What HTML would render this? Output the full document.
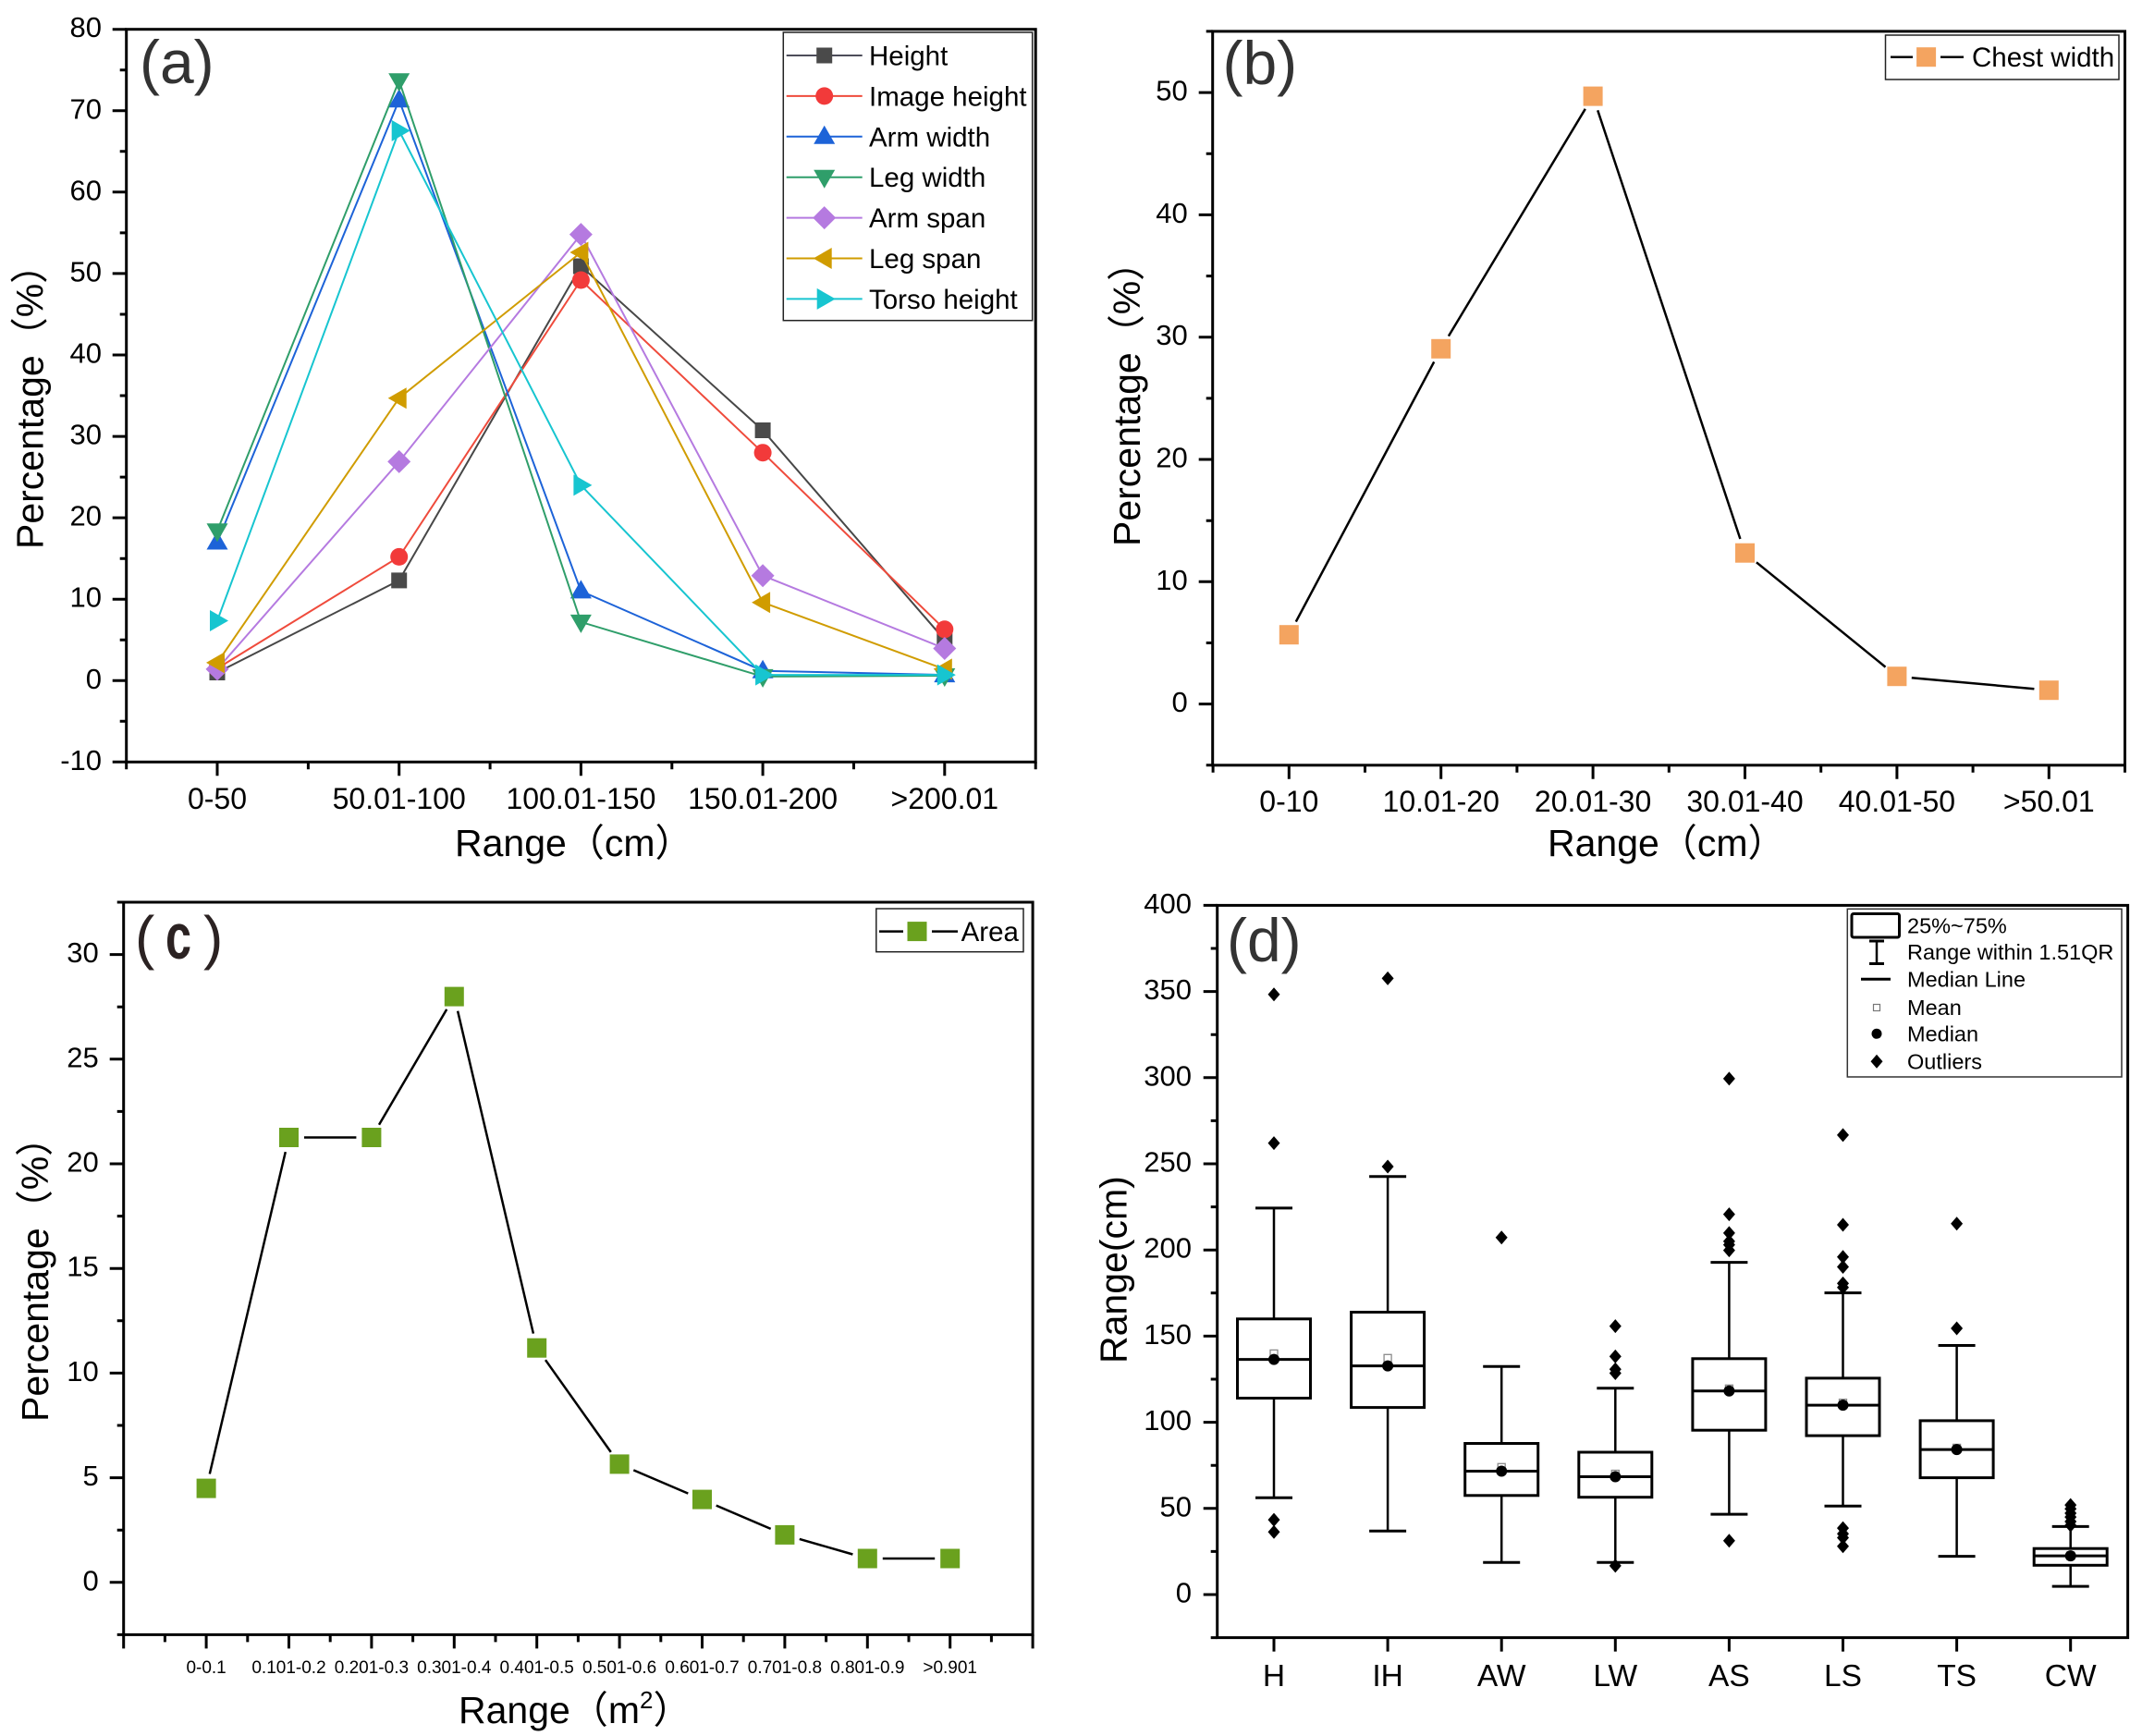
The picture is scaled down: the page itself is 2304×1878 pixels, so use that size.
<!DOCTYPE html>
<html><head><meta charset="utf-8"><style>
html,body{margin:0;padding:0;background:#fff;}
svg{display:block;}
text{font-family:"Liberation Sans","Noto Sans CJK SC",sans-serif;fill:#000;}
.yt{font-size:31px;text-anchor:end;}
.xt{font-size:32px;text-anchor:middle;}
.xs{font-size:19px;text-anchor:middle;}
.ttl{font-size:41px;}
.lg{font-size:29.5px;}
.lgd{font-size:23.5px;}
.pl{font-size:66px;fill:#333;}
</style></head><body>
<svg width="2304" height="1878" viewBox="0 0 2304 1878" xmlns="http://www.w3.org/2000/svg">
<defs>
<rect id="sq" x="-8.5" y="-8.5" width="17" height="17"/>
<circle id="ci" r="9.5"/>
<path id="tu" d="M0 -12L11.5 8L-11.5 8Z"/>
<path id="td" d="M0 12L11.5 -8L-11.5 -8Z"/>
<path id="dm" d="M0 -12.5L12.5 0L0 12.5L-12.5 0Z"/>
<path id="tl" d="M-12 0L8 -11.5L8 11.5Z"/>
<path id="tr" d="M12 0L-8 -11.5L-8 11.5Z"/>
<rect id="bsq" x="-10.5" y="-10.5" width="21" height="21"/>
<path id="dia" d="M0 -7.5L6.5 0L0 7.5L-6.5 0Z"/>
</defs>
<rect width="2304" height="1878" fill="#fff"/>

<!-- ================= PANEL A ================= -->
<g stroke="#000" stroke-width="3" fill="none">
<path d="M121.7 31.7h15M121.7 119.8h15M121.7 207.8h15M121.7 295.9h15M121.7 384h15M121.7 472.1h15M121.7 560.1h15M121.7 648.2h15M121.7 736.3h15M121.7 824.3h15"/>
<path d="M129.7 75.7h7M129.7 163.8h7M129.7 251.9h7M129.7 340h7M129.7 428h7M129.7 516.1h7M129.7 604.2h7M129.7 692.2h7M129.7 780.3h7"/>
<path d="M235 824.3v15M431.7 824.3v15M628.4 824.3v15M825.1 824.3v15M1021.8 824.3v15"/>
<path d="M136.7 824.3v8M333.4 824.3v8M530.1 824.3v8M726.8 824.3v8M923.5 824.3v8M1120.2 824.3v8"/>
</g>
<text class="yt" x="110" y="40.2">80</text>
<text class="yt" x="110" y="128.3">70</text>
<text class="yt" x="110" y="216.3">60</text>
<text class="yt" x="110" y="304.4">50</text>
<text class="yt" x="110" y="392.5">40</text>
<text class="yt" x="110" y="480.6">30</text>
<text class="yt" x="110" y="568.6">20</text>
<text class="yt" x="110" y="656.7">10</text>
<text class="yt" x="110" y="744.8">0</text>
<text class="yt" x="110" y="832.8">-10</text>
<text class="xt" x="235" y="875">0-50</text>
<text class="xt" x="431.7" y="875">50.01-100</text>
<text class="xt" x="628.4" y="875">100.01-150</text>
<text class="xt" x="825.1" y="875">150.01-200</text>
<text class="xt" x="1021.8" y="875">&gt;200.01</text>
<text class="ttl" x="492" y="926">Range（cm）</text>
<text class="ttl" transform="translate(46.5,594) rotate(-90)">Percentage（%）</text>
<text class="pl" x="151" y="90">(a)</text>

<!-- series a -->
<polyline fill="none" stroke-width="2" stroke="#474747" points="235,727.5 431.7,627.9 628.4,288 825.1,465.5 1021.8,692.2"/>
<g fill="#4a4a4a"><use href="#sq" x="235" y="727.5"/><use href="#sq" x="431.7" y="627.9"/><use href="#sq" x="628.4" y="288"/><use href="#sq" x="825.1" y="465.5"/><use href="#sq" x="1021.8" y="692.2"/></g>
<polyline fill="none" stroke-width="2" stroke="#ef4b3c" points="235,723.1 431.7,602.4 628.4,303 825.1,489.7 1021.8,680.8"/>
<g fill="#f23a3a"><use href="#ci" x="235" y="723.1"/><use href="#ci" x="431.7" y="602.4"/><use href="#ci" x="628.4" y="303"/><use href="#ci" x="825.1" y="489.7"/><use href="#ci" x="1021.8" y="680.8"/></g>
<polyline fill="none" stroke-width="2" stroke="#1d63d8" points="235,586.5 431.7,108.3 628.4,639.4 825.1,725.7 1021.8,730.1"/>
<g fill="#1d63d8"><use href="#tu" x="235" y="586.5"/><use href="#tu" x="431.7" y="108.3"/><use href="#tu" x="628.4" y="639.4"/><use href="#tu" x="825.1" y="725.7"/><use href="#tu" x="1021.8" y="730.1"/></g>
<polyline fill="none" stroke-width="2" stroke="#2f9e6a" points="235,574.2 431.7,87.2 628.4,672.9 825.1,731.9 1021.8,731"/>
<g fill="#2f9e6a"><use href="#td" x="235" y="574.2"/><use href="#td" x="431.7" y="87.2"/><use href="#td" x="628.4" y="672.9"/><use href="#td" x="825.1" y="731.9"/><use href="#td" x="1021.8" y="731"/></g>
<polyline fill="none" stroke-width="2" stroke="#b57ae0" points="235,723.9 431.7,499.4 628.4,253.6 825.1,622.7 1021.8,701.5"/>
<g fill="#b57ae0"><use href="#dm" x="235" y="723.9"/><use href="#dm" x="431.7" y="499.4"/><use href="#dm" x="628.4" y="253.6"/><use href="#dm" x="825.1" y="622.7"/><use href="#dm" x="1021.8" y="701.5"/></g>
<polyline fill="none" stroke-width="2" stroke="#d09c00" points="235,716.9 431.7,430.7 628.4,273 825.1,651.7 1021.8,723.9"/>
<g fill="#d09c00"><use href="#tl" x="235" y="716.9"/><use href="#tl" x="431.7" y="430.7"/><use href="#tl" x="628.4" y="273"/><use href="#tl" x="825.1" y="651.7"/><use href="#tl" x="1021.8" y="723.9"/></g>
<polyline fill="none" stroke-width="2" stroke="#17c5d0" points="235,671.5 431.7,141.4 628.4,524.9 825.1,730.1 1021.8,730.1"/>
<g fill="#17c5d0"><use href="#tr" x="235" y="671.5"/><use href="#tr" x="431.7" y="141.4"/><use href="#tr" x="628.4" y="524.9"/><use href="#tr" x="825.1" y="730.1"/><use href="#tr" x="1021.8" y="730.1"/></g>

<!-- legend a -->
<rect x="847.3" y="35" width="269.4" height="311.7" fill="#fff" stroke="#222" stroke-width="1.5"/>
<g stroke-width="2">
<path d="M850.7 60H932.7" stroke="#4d4d5a"/>
<path d="M850.7 103.9H932.7" stroke="#ef4b3c"/>
<path d="M850.7 147.8H932.7" stroke="#1d63d8"/>
<path d="M850.7 191.7H932.7" stroke="#2f9e6a"/>
<path d="M850.7 235.6H932.7" stroke="#b57ae0"/>
<path d="M850.7 279.5H932.7" stroke="#d09c00"/>
<path d="M850.7 323.4H932.7" stroke="#17c5d0"/>
</g>
<use href="#sq" x="891.7" y="60" fill="#4a4a4a"/>
<use href="#ci" x="891.7" y="103.9" fill="#f23a3a"/>
<use href="#tu" x="891.7" y="147.8" fill="#1d63d8"/>
<use href="#td" x="891.7" y="191.7" fill="#2f9e6a"/>
<use href="#dm" x="891.7" y="235.6" fill="#b57ae0"/>
<use href="#tl" x="891.7" y="279.5" fill="#d09c00"/>
<use href="#tr" x="891.7" y="323.4" fill="#17c5d0"/>
<text class="lg" x="940" y="70.5">Height</text>
<text class="lg" x="940" y="114.4">Image height</text>
<text class="lg" x="940" y="158.3">Arm width</text>
<text class="lg" x="940" y="202.2">Leg width</text>
<text class="lg" x="940" y="246.1">Arm span</text>
<text class="lg" x="940" y="290">Leg span</text>
<text class="lg" x="940" y="333.9">Torso height</text>
<rect x="136.7" y="31.7" width="983.5" height="792.6" fill="none" stroke="#000" stroke-width="3"/>

<!-- ================= PANEL B ================= -->
<g stroke="#000" stroke-width="3" fill="none">
<path d="M1296.7 761.6h15M1296.7 629.3h15M1296.7 497h15M1296.7 364.7h15M1296.7 232.4h15M1296.7 100.1h15"/>
<path d="M1304.7 827.8h7M1304.7 695.5h7M1304.7 563.2h7M1304.7 430.9h7M1304.7 298.6h7M1304.7 166.3h7M1304.7 33.9h7"/>
<path d="M1394.3 827.8v15M1558.7 827.8v15M1723.1 827.8v15M1887.5 827.8v15M2051.9 827.8v15M2216.3 827.8v15"/>
<path d="M1312.1 827.8v8M1476.5 827.8v8M1640.9 827.8v8M1805.3 827.8v8M1969.7 827.8v8M2134.1 827.8v8M2298.5 827.8v8"/>
</g>
<text class="yt" x="1284.7" y="770.1">0</text>
<text class="yt" x="1284.7" y="637.8">10</text>
<text class="yt" x="1284.7" y="505.5">20</text>
<text class="yt" x="1284.7" y="373.2">30</text>
<text class="yt" x="1284.7" y="240.9">40</text>
<text class="yt" x="1284.7" y="108.6">50</text>
<text class="xt" x="1394.3" y="878">0-10</text>
<text class="xt" x="1558.7" y="878">10.01-20</text>
<text class="xt" x="1723.1" y="878">20.01-30</text>
<text class="xt" x="1887.5" y="878">30.01-40</text>
<text class="xt" x="2051.9" y="878">40.01-50</text>
<text class="xt" x="2216.3" y="878">&gt;50.01</text>
<text class="ttl" x="1674" y="926">Range（cm）</text>
<text class="ttl" transform="translate(1233,591) rotate(-90)">Percentage（%）</text>
<text class="pl" x="1322.5" y="91">(b)</text>
<path d="M1401.8 672.6L1551.2 391.4M1566.9 363.6L1714.8 117.8M1728.2 119.3L1882.4 583M1899.9 608.3L2039.5 721.6M2067.8 733.2L2200.4 745.2" stroke="#000" stroke-width="2.5" fill="none"/>
<g fill="#f4a460"><use href="#bsq" x="1394.3" y="686.7"/><use href="#bsq" x="1558.7" y="377.3"/><use href="#bsq" x="1723.1" y="104.1"/><use href="#bsq" x="1887.5" y="598.2"/><use href="#bsq" x="2051.9" y="731.7"/><use href="#bsq" x="2216.3" y="746.7"/></g>
<rect x="2039.5" y="38" width="252.5" height="48" fill="#fff" stroke="#222" stroke-width="1.5"/>
<path d="M2045 61.7H2069M2099 61.7H2124" stroke="#000" stroke-width="2.5"/>
<use href="#bsq" x="2083.6" y="61.7" fill="#f4a460"/>
<text class="lg" x="2133" y="72">Chest width</text>
<rect x="1311.7" y="33.9" width="986.8" height="793.9" fill="none" stroke="#000" stroke-width="3"/>

<!-- ================= PANEL C ================= -->
<g stroke="#000" stroke-width="3" fill="none">
<path d="M118.7 1711.8h15M118.7 1598.6h15M118.7 1485.4h15M118.7 1372.2h15M118.7 1259h15M118.7 1145.8h15M118.7 1032.6h15"/>
<path d="M126.7 1768.4h7M126.7 1655.2h7M126.7 1542h7M126.7 1428.8h7M126.7 1315.6h7M126.7 1202.4h7M126.7 1089.2h7M126.7 976h7"/>
<path d="M133.7 1768.4v15M223.1 1768.4v15M312.5 1768.4v15M401.9 1768.4v15M491.3 1768.4v15M580.7 1768.4v15M670.1 1768.4v15M759.5 1768.4v15M848.9 1768.4v15M938.3 1768.4v15M1027.7 1768.4v15M1117.1 1768.4v15"/>
<path d="M178.4 1768.4v8M267.8 1768.4v8M357.2 1768.4v8M446.6 1768.4v8M536 1768.4v8M625.4 1768.4v8M714.8 1768.4v8M804.2 1768.4v8M893.6 1768.4v8M983 1768.4v8M1072.4 1768.4v8"/>
</g>
<text class="yt" x="106.7" y="1720.3">0</text>
<text class="yt" x="106.7" y="1607.1">5</text>
<text class="yt" x="106.7" y="1493.9">10</text>
<text class="yt" x="106.7" y="1380.7">15</text>
<text class="yt" x="106.7" y="1267.5">20</text>
<text class="yt" x="106.7" y="1154.3">25</text>
<text class="yt" x="106.7" y="1041.1">30</text>
<text class="xs" x="223.1" y="1810">0-0.1</text>
<text class="xs" x="312.5" y="1810">0.101-0.2</text>
<text class="xs" x="401.9" y="1810">0.201-0.3</text>
<text class="xs" x="491.3" y="1810">0.301-0.4</text>
<text class="xs" x="580.7" y="1810">0.401-0.5</text>
<text class="xs" x="670.1" y="1810">0.501-0.6</text>
<text class="xs" x="759.5" y="1810">0.601-0.7</text>
<text class="xs" x="848.9" y="1810">0.701-0.8</text>
<text class="xs" x="938.3" y="1810">0.801-0.9</text>
<text class="xs" x="1027.7" y="1810">&gt;0.901</text>
<text class="ttl" x="496" y="1864">Range（m<tspan font-size="26" dy="-16">2</tspan><tspan dy="16">）</tspan></text>
<text class="ttl" transform="translate(52,1538) rotate(-90)">Percentage（%）</text>
<text x="146" y="1036" style="font-size:64px;fill:#2b2222">(</text>
<text transform="translate(179,1037) scale(0.72,1)" style="font-size:70px;font-weight:bold;fill:#2b2222">c</text>
<text x="220" y="1036" style="font-size:64px;fill:#2b2222">)</text>
<path d="M226.8 1594.5L308.8 1246.1M329 1230.5L385.4 1230.5M410 1216.7L483.2 1091.9M495.1 1093.7L576.9 1442.6M590 1471.2L660.8 1570.9M685.3 1590.4L744.3 1615.6M774.7 1628.6L833.7 1653.9M864.8 1664.9L922.4 1681.5M954.8 1686L1011.2 1686" stroke="#000" stroke-width="2.5" fill="none"/>
<g fill="#6aa11e"><use href="#bsq" x="223.1" y="1610.1"/><use href="#bsq" x="312.5" y="1230.5"/><use href="#bsq" x="401.9" y="1230.5"/><use href="#bsq" x="491.3" y="1078.1"/><use href="#bsq" x="580.7" y="1458.2"/><use href="#bsq" x="670.1" y="1583.9"/><use href="#bsq" x="759.5" y="1622.1"/><use href="#bsq" x="848.9" y="1660.4"/><use href="#bsq" x="938.3" y="1686"/><use href="#bsq" x="1027.7" y="1686"/></g>
<rect x="947.8" y="983" width="159.2" height="46.7" fill="#fff" stroke="#222" stroke-width="1.5"/>
<path d="M951 1007.6H977M1008 1007.6H1036" stroke="#000" stroke-width="2.5"/>
<use href="#bsq" x="992" y="1007.6" fill="#6aa11e"/>
<text class="lg" x="1039.6" y="1018">Area</text>
<rect x="133.7" y="976" width="983.4" height="792.4" fill="none" stroke="#000" stroke-width="3"/>

<!-- ================= PANEL D ================= -->
<g stroke="#000" stroke-width="3" fill="none">
<path d="M1301.7 1725h15M1301.7 1631.8h15M1301.7 1538.6h15M1301.7 1445.4h15M1301.7 1352.2h15M1301.7 1259h15M1301.7 1165.8h15M1301.7 1072.6h15M1301.7 979.4h15"/>
<path d="M1309.7 1771.6h7M1309.7 1678.4h7M1309.7 1585.2h7M1309.7 1492h7M1309.7 1398.8h7M1309.7 1305.6h7M1309.7 1212.4h7M1309.7 1119.2h7M1309.7 1026h7"/>
<path d="M1378 1771.6v15M1501.1 1771.6v15M1624.2 1771.6v15M1747.3 1771.6v15M1870.4 1771.6v15M1993.5 1771.6v15M2116.6 1771.6v15M2239.7 1771.6v15"/>
</g>
<text class="yt" x="1289" y="1733.5">0</text>
<text class="yt" x="1289" y="1640.3">50</text>
<text class="yt" x="1289" y="1547.1">100</text>
<text class="yt" x="1289" y="1453.9">150</text>
<text class="yt" x="1289" y="1360.7">200</text>
<text class="yt" x="1289" y="1267.5">250</text>
<text class="yt" x="1289" y="1174.3">300</text>
<text class="yt" x="1289" y="1081.1">350</text>
<text class="yt" x="1289" y="987.9">400</text>
<text x="1378" y="1824" style="font-size:33.5px;text-anchor:middle">H</text>
<text x="1501.1" y="1824" style="font-size:33.5px;text-anchor:middle">IH</text>
<text x="1624.2" y="1824" style="font-size:33.5px;text-anchor:middle">AW</text>
<text x="1747.3" y="1824" style="font-size:33.5px;text-anchor:middle">LW</text>
<text x="1870.4" y="1824" style="font-size:33.5px;text-anchor:middle">AS</text>
<text x="1993.5" y="1824" style="font-size:33.5px;text-anchor:middle">LS</text>
<text x="2116.6" y="1824" style="font-size:33.5px;text-anchor:middle">TS</text>
<text x="2239.7" y="1824" style="font-size:33.5px;text-anchor:middle">CW</text>
<text class="ttl" transform="translate(1218.5,1475) rotate(-90)">Range(cm)</text>
<text class="pl" x="1327" y="1040">(d)</text>

<!-- boxes -->
<g stroke="#000" fill="none">
<path d="M1378 1306.9V1426.8M1378 1512.5V1620.2" stroke-width="2.5"/>
<path d="M1358 1306.9h40M1358 1620.2h40" stroke-width="3"/>
<rect x="1338.5" y="1426.8" width="79" height="85.7" stroke-width="3"/>
<path d="M1338.5 1470.6h79" stroke-width="3"/>
<path d="M1501.1 1272.8V1419.5M1501.1 1522.6V1656.2" stroke-width="2.5"/>
<path d="M1481.1 1272.8h40M1481.1 1656.2h40" stroke-width="3"/>
<rect x="1461.6" y="1419.5" width="79" height="103.1" stroke-width="3"/>
<path d="M1461.6 1477.6h79" stroke-width="3"/>
<path d="M1624.2 1478.2V1561.5M1624.2 1617.8V1690.3" stroke-width="2.5"/>
<path d="M1604.2 1478.2h40M1604.2 1690.3h40" stroke-width="3"/>
<rect x="1584.7" y="1561.5" width="79" height="56.3" stroke-width="3"/>
<path d="M1584.7 1591.5h79" stroke-width="3"/>
<path d="M1747.3 1501.7V1571M1747.3 1619.7V1690.3" stroke-width="2.5"/>
<path d="M1727.3 1501.7h40M1727.3 1690.3h40" stroke-width="3"/>
<rect x="1707.8" y="1571" width="79" height="48.7" stroke-width="3"/>
<path d="M1707.8 1597.5h79" stroke-width="3"/>
<path d="M1870.4 1365.6V1469.8M1870.4 1547.2V1638.1" stroke-width="2.5"/>
<path d="M1850.4 1365.6h40M1850.4 1638.1h40" stroke-width="3"/>
<rect x="1830.9" y="1469.8" width="79" height="77.4" stroke-width="3"/>
<path d="M1830.9 1504.7h79" stroke-width="3"/>
<path d="M1993.5 1398.6V1490.9M1993.5 1553.1V1629.2" stroke-width="2.5"/>
<path d="M1973.5 1398.6h40M1973.5 1629.2h40" stroke-width="3"/>
<rect x="1954" y="1490.9" width="79" height="62.2" stroke-width="3"/>
<path d="M1954 1520.1h79" stroke-width="3"/>
<path d="M2116.6 1455.5V1536.9M2116.6 1598.6V1683.6" stroke-width="2.5"/>
<path d="M2096.6 1455.5h40M2096.6 1683.6h40" stroke-width="3"/>
<rect x="2077.1" y="1536.9" width="79" height="61.7" stroke-width="3"/>
<path d="M2077.1 1568.1h79" stroke-width="3"/>
<path d="M2239.7 1651.4V1675.2M2239.7 1693.3V1716.1" stroke-width="2.5"/>
<path d="M2219.7 1651.4h40M2219.7 1716.1h40" stroke-width="3"/>
<rect x="2200.2" y="1675.2" width="79" height="18.1" stroke-width="3"/>
<path d="M2200.2 1683.1h79" stroke-width="3"/>
</g>
<g fill="#fff" stroke="#8a8a8a" stroke-width="1.3">
<rect x="1374" y="1460.4" width="8" height="8"/>
<rect x="1497.1" y="1465.3" width="8" height="8"/>
<rect x="1620.2" y="1583.3" width="8" height="8"/>
<rect x="1743.3" y="1590.5" width="8" height="8"/>
<rect x="1866.4" y="1498.3" width="8" height="8"/>
<rect x="1989.5" y="1513.7" width="8" height="8"/>
<rect x="2112.6" y="1562.4" width="8" height="8"/>
<rect x="2235.7" y="1679" width="8" height="8"/>
</g>
<g fill="#000">
<circle cx="1378" cy="1470.6" r="6"/>
<circle cx="1501.1" cy="1477.6" r="6"/>
<circle cx="1624.2" cy="1591.5" r="6"/>
<circle cx="1747.3" cy="1597.5" r="6"/>
<circle cx="1870.4" cy="1504.7" r="6"/>
<circle cx="1993.5" cy="1520.1" r="6"/>
<circle cx="2116.6" cy="1568.1" r="6"/>
<circle cx="2239.7" cy="1683.1" r="6"/>
</g>
<g fill="#000">
<use href="#dia" x="1378" y="1075.8"/><use href="#dia" x="1378" y="1236.6"/><use href="#dia" x="1378" y="1644.1"/><use href="#dia" x="1378" y="1657.3"/>
<use href="#dia" x="1501.1" y="1058.4"/><use href="#dia" x="1501.1" y="1262"/>
<use href="#dia" x="1624.2" y="1338.8"/>
<use href="#dia" x="1747.3" y="1434.6"/><use href="#dia" x="1747.3" y="1467.4"/><use href="#dia" x="1747.3" y="1481.2"/><use href="#dia" x="1747.3" y="1485.5"/><use href="#dia" x="1747.3" y="1693.9"/>
<use href="#dia" x="1870.4" y="1166.9"/><use href="#dia" x="1870.4" y="1313.6"/><use href="#dia" x="1870.4" y="1333.9"/><use href="#dia" x="1870.4" y="1342.9"/><use href="#dia" x="1870.4" y="1346.6"/><use href="#dia" x="1870.4" y="1352.6"/><use href="#dia" x="1870.4" y="1666.8"/>
<use href="#dia" x="1993.5" y="1227.9"/><use href="#dia" x="1993.5" y="1325"/><use href="#dia" x="1993.5" y="1359.7"/><use href="#dia" x="1993.5" y="1370.5"/><use href="#dia" x="1993.5" y="1388.4"/><use href="#dia" x="1993.5" y="1392.7"/><use href="#dia" x="1993.5" y="1653.1"/><use href="#dia" x="1993.5" y="1659.2"/><use href="#dia" x="1993.5" y="1663.5"/><use href="#dia" x="1993.5" y="1672.8"/>
<use href="#dia" x="2116.6" y="1323.7"/><use href="#dia" x="2116.6" y="1437"/>
<use href="#dia" x="2239.7" y="1628.1"/><use href="#dia" x="2239.7" y="1632.2"/><use href="#dia" x="2239.7" y="1637"/><use href="#dia" x="2239.7" y="1641.1"/><use href="#dia" x="2239.7" y="1646"/><use href="#dia" x="2239.7" y="1650.1"/>
</g>

<!-- legend d -->
<rect x="1998.3" y="983.3" width="296.7" height="181.7" fill="#fff" stroke="#333" stroke-width="1.5"/>
<rect x="2003" y="988.5" width="51.5" height="25.5" rx="2" fill="none" stroke="#000" stroke-width="3"/>
<path d="M2030 1018V1042.5" stroke="#000" stroke-width="2.5"/>
<path d="M2022 1018h16M2022 1042.5h16" stroke="#000" stroke-width="3"/>
<path d="M2013 1059.3H2045" stroke="#000" stroke-width="3"/>
<rect x="2026.5" y="1086.5" width="7" height="7" fill="#fff" stroke="#777" stroke-width="1.2"/>
<circle cx="2030" cy="1118.3" r="5.5" fill="#000"/>
<use href="#dia" x="2030" y="1148.3" fill="#000"/>
<text class="lgd" x="2063" y="1009.7">25%~75%</text>
<text class="lgd" x="2063" y="1038">Range within 1.51QR</text>
<text class="lgd" x="2063" y="1067.3">Median Line</text>
<text class="lgd" x="2063" y="1098">Mean</text>
<text class="lgd" x="2063" y="1126.3">Median</text>
<text class="lgd" x="2063" y="1156.3">Outliers</text>
<rect x="1316.7" y="979.4" width="984.9" height="792.2" fill="none" stroke="#000" stroke-width="3"/>
</svg>
</body></html>
